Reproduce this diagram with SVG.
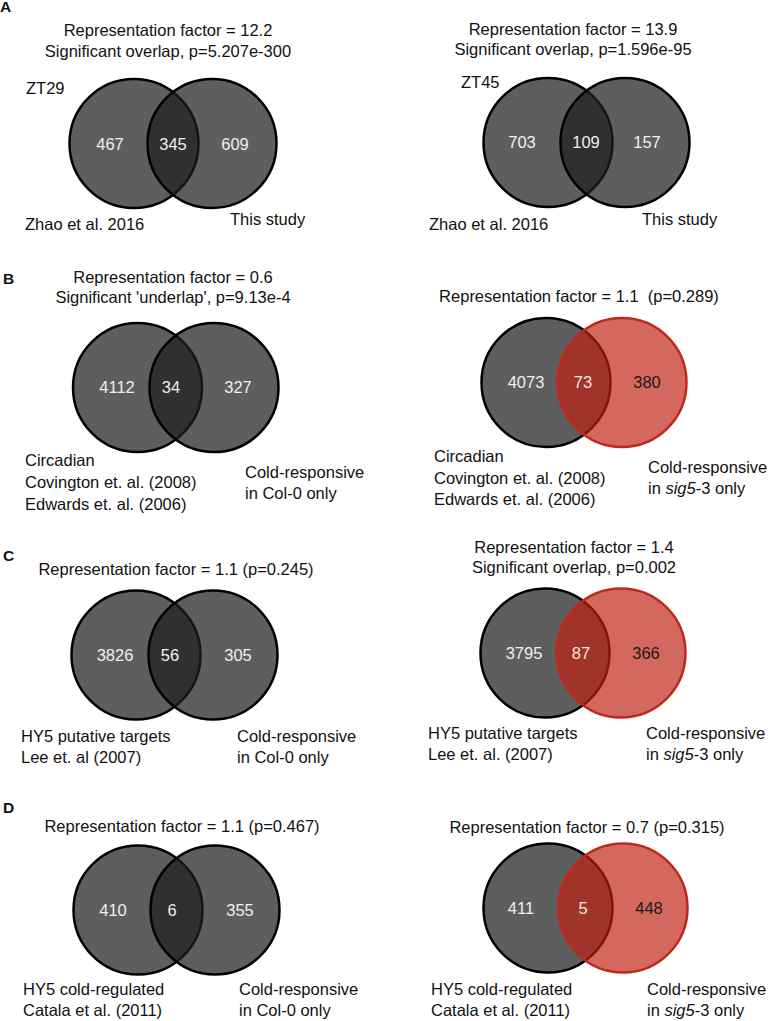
<svg xmlns="http://www.w3.org/2000/svg" width="768" height="1021" viewBox="0 0 768 1021">
<style>
text{font-family:"Liberation Sans",Arial,sans-serif;font-size:16.5px;fill:#111}
.t{text-anchor:middle}
.pl{font-weight:bold;font-size:15.5px}
.g{fill:#1e1e1e;fill-opacity:0.714;stroke:#000;stroke-width:2.5}
.r{fill:#bf2111;fill-opacity:0.68;stroke:#c0281e;stroke-width:2.5}
.n{text-anchor:middle;fill:#efefef}
.nl{text-anchor:middle;fill:#fbe4e0}
.nd{text-anchor:middle;fill:#1a1a1a}
</style>
<rect width="768" height="1021" fill="#fff"/>

<g id="panelA-left">
<text class="pl" x="0" y="12">A</text>
<text class="t" x="168" y="36">Representation factor = 12.2</text>
<text class="t" x="168" y="57">Significant overlap, p=5.207e-300</text>
<text x="26" y="94">ZT29</text>
<g id="A1-zhao"><circle class="g" cx="134" cy="143.5" r="64.5"/></g>
<g id="A1-study"><circle class="g" cx="212" cy="143.5" r="64.5"/></g>
<text class="n" x="110" y="150">467</text>
<text class="n" x="173" y="150">345</text>
<text class="n" x="235" y="150">609</text>
<text x="25" y="230">Zhao et al. 2016</text>
<text x="230" y="225">This study</text>
</g>

<g id="panelA-right">
<text class="t" x="573" y="35">Representation factor = 13.9</text>
<text class="t" x="573" y="55">Significant overlap, p=1.596e-95</text>
<text x="461" y="88">ZT45</text>
<g id="A2-zhao"><circle class="g" cx="548" cy="142.5" r="64.5"/></g>
<g id="A2-study"><circle class="g" cx="625" cy="142.5" r="64.5"/></g>
<text class="n" x="522" y="148">703</text>
<text class="n" x="586" y="148">109</text>
<text class="n" x="647" y="148">157</text>
<text x="429" y="230">Zhao et al. 2016</text>
<text x="642" y="225">This study</text>
</g>

<g id="panelB-left">
<text class="pl" x="3" y="284">B</text>
<text class="t" x="173" y="283">Representation factor = 0.6</text>
<text class="t" x="173" y="303">Significant 'underlap', p=9.13e-4</text>
<g id="B1-circadian"><circle class="g" cx="137.5" cy="387.5" r="64.5"/></g>
<g id="B1-cold"><circle class="g" cx="214" cy="387.5" r="64.5"/></g>
<text class="n" x="117" y="393">4112</text>
<text class="n" x="171" y="393">34</text>
<text class="n" x="238" y="393">327</text>
<text x="25" y="466">Circadian</text>
<text x="25" y="488">Covington et. al. (2008)</text>
<text x="25" y="510">Edwards et. al. (2006)</text>
<text x="245" y="478">Cold-responsive</text>
<text x="245" y="499">in Col-0 only</text>
</g>

<g id="panelB-right">
<text class="t" x="579" y="302" style="white-space:pre">Representation factor = 1.1  (p=0.289)</text>
<g id="B2-circadian"><circle class="g" cx="546" cy="382.5" r="64.5"/></g>
<g id="B2-cold"><circle class="r" cx="622" cy="382.5" r="64.5"/></g>
<text class="n" x="526" y="388">4073</text>
<text class="nl" x="583" y="388">73</text>
<text class="nd" x="647" y="388">380</text>
<text x="434" y="462">Circadian</text>
<text x="434" y="484">Covington et. al. (2008)</text>
<text x="434" y="505">Edwards et. al. (2006)</text>
<text x="648" y="473">Cold-responsive</text>
<text x="648" y="494">in <tspan font-style="italic">sig5</tspan>-3 only</text>
</g>

<g id="panelC-left">
<text class="pl" x="3" y="561">C</text>
<text class="t" x="176" y="575">Representation factor = 1.1 (p=0.245)</text>
<g id="C1-hy5"><circle class="g" cx="136" cy="655" r="64.5"/></g>
<g id="C1-cold"><circle class="g" cx="213" cy="655" r="64.5"/></g>
<text class="n" x="115" y="661">3826</text>
<text class="n" x="170" y="661">56</text>
<text class="n" x="238" y="661">305</text>
<text x="21" y="742">HY5 putative targets</text>
<text x="21" y="763">Lee et. al (2007)</text>
<text x="237" y="742">Cold-responsive</text>
<text x="237" y="763">in Col-0 only</text>
</g>

<g id="panelC-right">
<text class="t" x="574" y="553">Representation factor = 1.4</text>
<text class="t" x="574" y="573">Significant overlap, p=0.002</text>
<g id="C2-hy5"><circle class="g" cx="545" cy="653" r="64.5"/></g>
<g id="C2-cold"><circle class="r" cx="621" cy="653" r="64.5"/></g>
<text class="n" x="524" y="659">3795</text>
<text class="nl" x="581" y="659">87</text>
<text class="nd" x="646" y="659">366</text>
<text x="428" y="739">HY5 putative targets</text>
<text x="428" y="760">Lee et. al. (2007)</text>
<text x="646" y="739">Cold-responsive</text>
<text x="646" y="760">in <tspan font-style="italic">sig5</tspan>-3 only</text>
</g>

<g id="panelD-left">
<text class="pl" x="3" y="813">D</text>
<text class="t" x="182" y="832">Representation factor = 1.1 (p=0.467)</text>
<g id="D1-hy5"><circle class="g" cx="138" cy="910" r="64.5"/></g>
<g id="D1-cold"><circle class="g" cx="215" cy="910" r="64.5"/></g>
<text class="n" x="113" y="916">410</text>
<text class="n" x="172" y="916">6</text>
<text class="n" x="240" y="916">355</text>
<text x="23" y="995">HY5 cold-regulated</text>
<text x="23" y="1016">Catala et al. (2011)</text>
<text x="239" y="995">Cold-responsive</text>
<text x="239" y="1016">in Col-0 only</text>
</g>

<g id="panelD-right">
<text class="t" x="587" y="833">Representation factor = 0.7 (p=0.315)</text>
<g id="D2-hy5"><circle class="g" cx="548" cy="908" r="64.5"/></g>
<g id="D2-cold"><circle class="r" cx="623" cy="908" r="64.5"/></g>
<text class="n" x="521" y="914">411</text>
<text class="nl" x="583" y="914">5</text>
<text class="nd" x="649" y="914">448</text>
<text x="431" y="995">HY5 cold-regulated</text>
<text x="431" y="1016">Catala et al. (2011)</text>
<text x="647" y="995">Cold-responsive</text>
<text x="647" y="1016">in <tspan font-style="italic">sig5</tspan>-3 only</text>
</g>
</svg>
